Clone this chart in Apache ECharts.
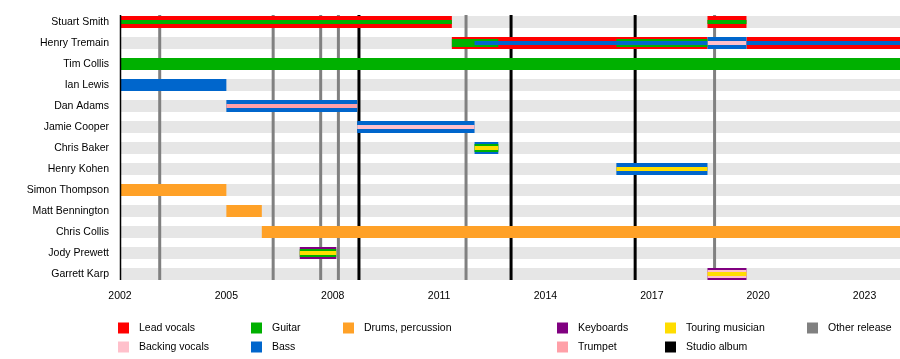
<!DOCTYPE html>
<html>
<head>
<meta charset="utf-8">
<script src="https://cdn.jsdelivr.net/npm/echarts@6/dist/echarts.min.js"></script>
<style>html,body{margin:0;padding:0;background:#fff}#c{width:900px;height:359px}</style>
</head>
<body>
<div id="c"></div>
<script>
// ---------- data ----------
const members = ['Stuart Smith','Henry Tremain','Tim Collis','Ian Lewis','Dan Adams','Jamie Cooper',
  'Chris Baker','Henry Kohen','Simon Thompson','Matt Bennington','Chris Collis','Jody Prewett','Garrett Karp'];
const xTickYears = [2002, 2005, 2008, 2011, 2014, 2017, 2020, 2023];

// spans: [member, start, end, layer]  (layer 0 = outer bar, 1 = middle stripe, 2 = inner stripe)
const leadVocals = [
  ['Stuart Smith', 2002, 2011.36, 0], ['Stuart Smith', 2018.57, 2019.67, 0],
  ['Henry Tremain', 2011.36, 2018.57, 0], ['Henry Tremain', 2019.67, 2024, 0]
];
const backingVocals = [
  ['Henry Tremain', 2018.57, 2019.67, 2], ['Jamie Cooper', 2008.69, 2012.0, 2],
  ['Garrett Karp', 2018.57, 2019.67, 1]
];
const guitar = [
  ['Stuart Smith', 2002, 2011.36, 2], ['Stuart Smith', 2018.57, 2019.67, 2],
  ['Henry Tremain', 2011.36, 2012.67, 1], ['Henry Tremain', 2016.0, 2018.57, 1],
  ['Tim Collis', 2002, 2024, 0], ['Chris Baker', 2012.0, 2012.67, 1], ['Jody Prewett', 2007.07, 2008.1, 1]
];
const bass = [
  ['Henry Tremain', 2012.0, 2018.57, 2], ['Henry Tremain', 2018.57, 2019.67, 0], ['Henry Tremain', 2019.67, 2024, 2],
  ['Ian Lewis', 2002, 2005.0, 0], ['Dan Adams', 2005.0, 2008.69, 0], ['Jamie Cooper', 2008.69, 2012.0, 0],
  ['Chris Baker', 2012.0, 2012.67, 0], ['Henry Kohen', 2016.0, 2018.57, 0]
];
const drums = [
  ['Simon Thompson', 2002, 2005.0, 0], ['Matt Bennington', 2005.0, 2006.0, 0], ['Chris Collis', 2006.0, 2024, 0]
];
const keyboards = [
  ['Jody Prewett', 2007.07, 2008.1, 0], ['Garrett Karp', 2018.57, 2019.67, 0]
];
const trumpet = [
  ['Dan Adams', 2005.0, 2008.69, 2]
];
const touring = [
  ['Chris Baker', 2012.0, 2012.67, 2], ['Henry Kohen', 2016.0, 2018.57, 2],
  ['Jody Prewett', 2007.07, 2008.1, 2], ['Garrett Karp', 2018.57, 2019.67, 2]
];
const studioAlbums = [2008.74, 2013.03, 2016.53];
const otherReleases = [2003.12, 2006.32, 2007.66, 2008.16, 2011.76, 2018.77];

// ---------- styling / layout ----------
const FONT = "'Liberation Sans', Arial, sans-serif";
const X_MIN = 2002, X_MAX = 2024;
const GRID_TOP = 22, GRID_H = 252, GRID_LEFT = 120;
const THICK = [12, 8, 4];

const roles = [
  { name: 'Lead vocals', color: '#FF0000', spans: leadVocals },
  { name: 'Backing vocals', color: '#FFC0CB', spans: backingVocals },
  { name: 'Guitar', color: '#00B000', spans: guitar },
  { name: 'Bass', color: '#0066CC', spans: bass },
  { name: 'Drums, percussion', color: '#FFA127', spans: drums },
  { name: 'Keyboards', color: '#800080', spans: keyboards },
  { name: 'Trumpet', color: '#FFA0A8', spans: trumpet },
  { name: 'Touring musician', color: '#FFDD00', spans: touring }
];

function spanRender(params, api) {
  const row = api.value(2);
  const p0 = api.coord([api.value(0), row]);
  const p1 = api.coord([api.value(1), row]);
  const layer = api.value(3);
  const h = THICK[layer];
  return {
    type: 'rect', z2: 20 + layer * 5,
    shape: { x: p0[0], y: p0[1] - h / 2, width: p1[0] - p0[0], height: h },
    style: { fill: api.visual('color') }
  };
}

function lineRender(params, api) {
  const x = api.coord([api.value(0), 0])[0];
  const cs = params.coordSys;
  return {
    type: 'line', z2: 10,
    shape: { x1: x, y1: cs.y - 7, x2: x, y2: cs.y + cs.height + 6 },
    style: { stroke: api.visual('color'), lineWidth: 3 }
  };
}

const series = [];
// row background bands
series.push({
  type: 'custom', name: 'rows', silent: true,
  encode: { x: [0, 1], y: 2 },
  data: members.map((m, i) => [X_MIN, X_MAX, i]),
  renderItem: (params, api) => {
    const p = api.coord([X_MIN, api.value(2)]);
    const cs = params.coordSys;
    return { type: 'rect', z2: 1, shape: { x: cs.x, y: p[1] - 6, width: cs.width, height: 12 }, style: { fill: '#E6E6E6' } };
  }
});
series.push({
  type: 'custom', name: 'Studio album', itemStyle: { color: '#000000' },
  encode: { x: 0, y: 1 }, data: studioAlbums.map(v => [v, 0]), renderItem: lineRender
});
series.push({
  type: 'custom', name: 'Other release', itemStyle: { color: '#808080' },
  encode: { x: 0, y: 1 }, data: otherReleases.map(v => [v, 0]), renderItem: lineRender
});
roles.forEach(r => {
  series.push({
    type: 'custom', name: r.name, itemStyle: { color: r.color },
    encode: { x: [0, 1], y: 2 },
    data: r.spans.map(s => [s[1], s[2], members.indexOf(s[0]), s[3]]),
    renderItem: spanRender
  });
});

const legendCols = [
  ['Lead vocals', 'Backing vocals'], ['Guitar', 'Bass'], ['Drums, percussion'],
  ['Keyboards', 'Trumpet'], ['Touring musician', 'Studio album'], ['Other release']
];
const legendX = [118, 251, 343, 557, 665, 807];

const option = {
  animation: false,
  backgroundColor: '#fff',
  textStyle: { fontFamily: FONT },
  grid: { left: GRID_LEFT, right: 0, top: GRID_TOP, height: GRID_H, containLabel: false, outerBoundsMode: 'none' },
  xAxis: {
    type: 'value', min: X_MIN, max: X_MAX, interval: 1, offset: 6,
    axisLine: { lineStyle: { color: '#000', width: 1 } },
    axisTick: { length: 4, lineStyle: { color: '#000' } },
    axisLabel: {
      fontSize: 10.5, color: '#000', margin: 11, fontFamily: FONT,
      formatter: v => xTickYears.indexOf(Math.round(v)) >= 0 ? String(Math.round(v)) : ''
    },
    splitLine: { show: false }
  },
  yAxis: {
    type: 'category', data: members, inverse: true, boundaryGap: false,
    axisLine: { show: false }, axisTick: { show: false }, splitLine: { show: false },
    axisLabel: { fontSize: 10.5, color: '#000', margin: 11, fontFamily: FONT }
  },
  legend: legendCols.map((names, k) => ({
    data: names, left: legendX[k], top: 322.5, orient: 'vertical',
    itemWidth: 11, itemHeight: 11, itemGap: 8, icon: 'rect', padding: 0,
    selectedMode: false,
    textStyle: { fontSize: 10.5, color: '#000', fontFamily: FONT, padding: [0, 0, 0, 5] }
  })),
  graphic: [{
    type: 'line', z: 100,
    shape: { x1: GRID_LEFT + 0.5, y1: GRID_TOP - 7, x2: GRID_LEFT + 0.5, y2: GRID_TOP + GRID_H + 6 },
    style: { stroke: '#000', lineWidth: 1.5 }
  }],
  series: series
};

const chart = echarts.init(document.getElementById('c'), null, { renderer: 'canvas' });
chart.setOption(option);
</script>
</body>
</html>
